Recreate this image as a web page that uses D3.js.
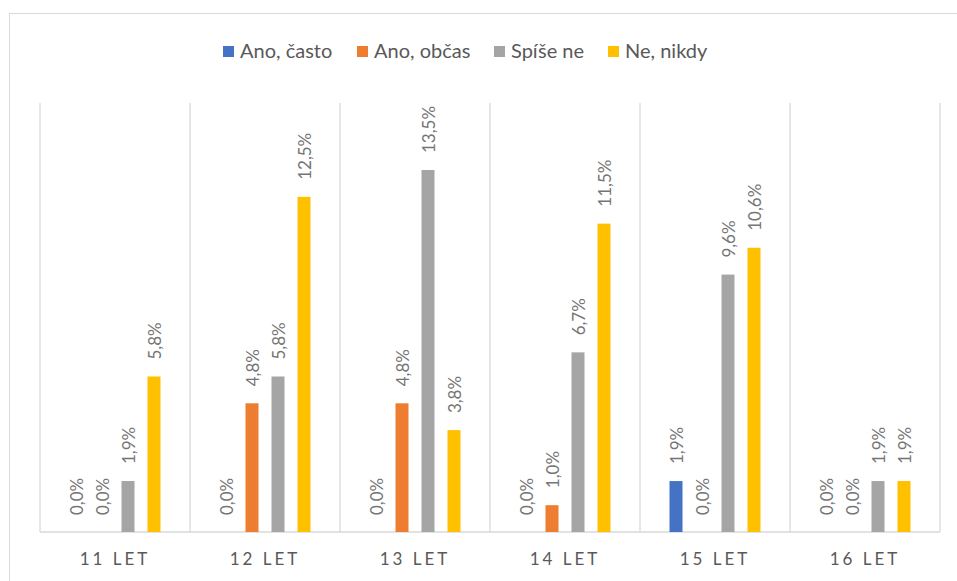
<!DOCTYPE html>
<html>
<head>
<meta charset="utf-8">
<script src="https://cdn.jsdelivr.net/npm/d3@7"></script>
<style>
  html, body { margin: 0; padding: 0; background: #fff; }
  svg { display: block; }
  text { font-family: Lato, "Open Sans", sans-serif; }
</style>
</head>
<body>
<svg id="chart" width="957" height="581"></svg>
<script>
// Věkové skupiny
const categories = ["11 LET", "12 LET", "13 LET", "14 LET", "15 LET", "16 LET"];
// Série odpovědí
const seriesNames = ["Ano, často", "Ano, občas", "Spíše ne", "Ne, nikdy"];
const seriesColors = ["#4472C4", "#ED7D31", "#A5A5A5", "#FFC000"];
// Hodnoty v procentech
const anoCasto = [0.0, 0.0, 0.0, 0.0, 1.9, 0.0];
const anoObcas = [0.0, 4.8, 4.8, 1.0, 0.0, 0.0];
const spiseNe  = [1.9, 5.8, 13.5, 6.7, 9.6, 1.9];
const neNikdy  = [5.8, 12.5, 3.8, 11.5, 10.6, 1.9];
const yMax = 16;

const values = [anoCasto, anoObcas, spiseNe, neNikdy];

const svg = d3.select("#chart");
const plot = { left: 40, right: 940, top: 103, bottom: 532 };

// outer chart frame
svg.append("rect")
  .attr("x", 9.5).attr("y", 13.5)
  .attr("width", 1000).attr("height", 1000)
  .attr("fill", "none").attr("stroke", "#d9d9d9").attr("stroke-width", 1);

const x0 = d3.scaleBand().domain(categories).range([plot.left, plot.right]).padding(0);
const x1 = d3.scaleBand().domain(d3.range(seriesNames.length))
  .range([0, x0.bandwidth()]).paddingOuter(23 / 26).paddingInner(0);
// bar occupies half of each series slot
const slot = x1.step();
const barW = slot / 2;

const y = d3.scaleLinear().domain([0, yMax]).range([plot.bottom, plot.top]);

// vertical category separators
const seps = categories.map(c => x0(c)).concat([plot.right]);
svg.append("g").selectAll("line").data(seps).join("line")
  .attr("x1", d => d).attr("x2", d => d)
  .attr("y1", plot.top).attr("y2", plot.bottom)
  .attr("stroke", "#d9d9d9").attr("stroke-width", 1.3);

// baseline
svg.append("line")
  .attr("x1", plot.left).attr("x2", plot.right)
  .attr("y1", plot.bottom).attr("y2", plot.bottom)
  .attr("stroke", "#d9d9d9").attr("stroke-width", 1.3);

// bars and labels
const flat = [];
categories.forEach((c, ci) => {
  seriesNames.forEach((s, si) => {
    flat.push({ cat: c, si, v: values[si][ci] });
  });
});

const barCenter = d => x0(d.cat) + x1(d.si) + slot / 2;

svg.append("g").selectAll("rect").data(flat.filter(d => d.v > 0)).join("rect")
  .attr("x", d => barCenter(d) - barW / 2)
  .attr("width", barW)
  .attr("y", d => y(d.v))
  .attr("height", d => y(0) - y(d.v))
  .attr("fill", d => seriesColors[d.si]);

const fmt = v => v.toFixed(1).replace(".", ",") + "%";

svg.append("g").selectAll("text").data(flat).join("text")
  .attr("transform", d => `translate(${barCenter(d)},${y(d.v) - 17}) rotate(-90)`)
  .attr("text-anchor", "start")
  .attr("dominant-baseline", "central")
  .attr("font-size", 17)
  .attr("fill", "#757575")
  .text(d => fmt(d.v));

// category axis labels
const xAxis = d3.axisBottom(x0).tickSize(0).tickPadding(0);
const axisG = svg.append("g").attr("transform", `translate(0,${plot.bottom})`).call(xAxis);
axisG.select(".domain").remove();
axisG.selectAll("text")
  .attr("y", 33)
  .attr("dy", 0)
  .attr("font-size", 17)
  .attr("font-family", "Lato, 'Open Sans', sans-serif")
  .attr("letter-spacing", "3px")
  .attr("fill", "#595959");

// legend
const legendX = [223, 357, 494, 608];
const legend = svg.append("g").selectAll("g").data(seriesNames).join("g")
  .attr("transform", (d, i) => `translate(${legendX[i]},46)`);
legend.append("rect").attr("width", 11).attr("height", 11)
  .attr("fill", (d, i) => seriesColors[i]);
legend.append("text").attr("x", 17).attr("y", 12)
  .attr("font-size", 20).attr("fill", "#595959")
  .text(d => d);
</script>
</body>
</html>
